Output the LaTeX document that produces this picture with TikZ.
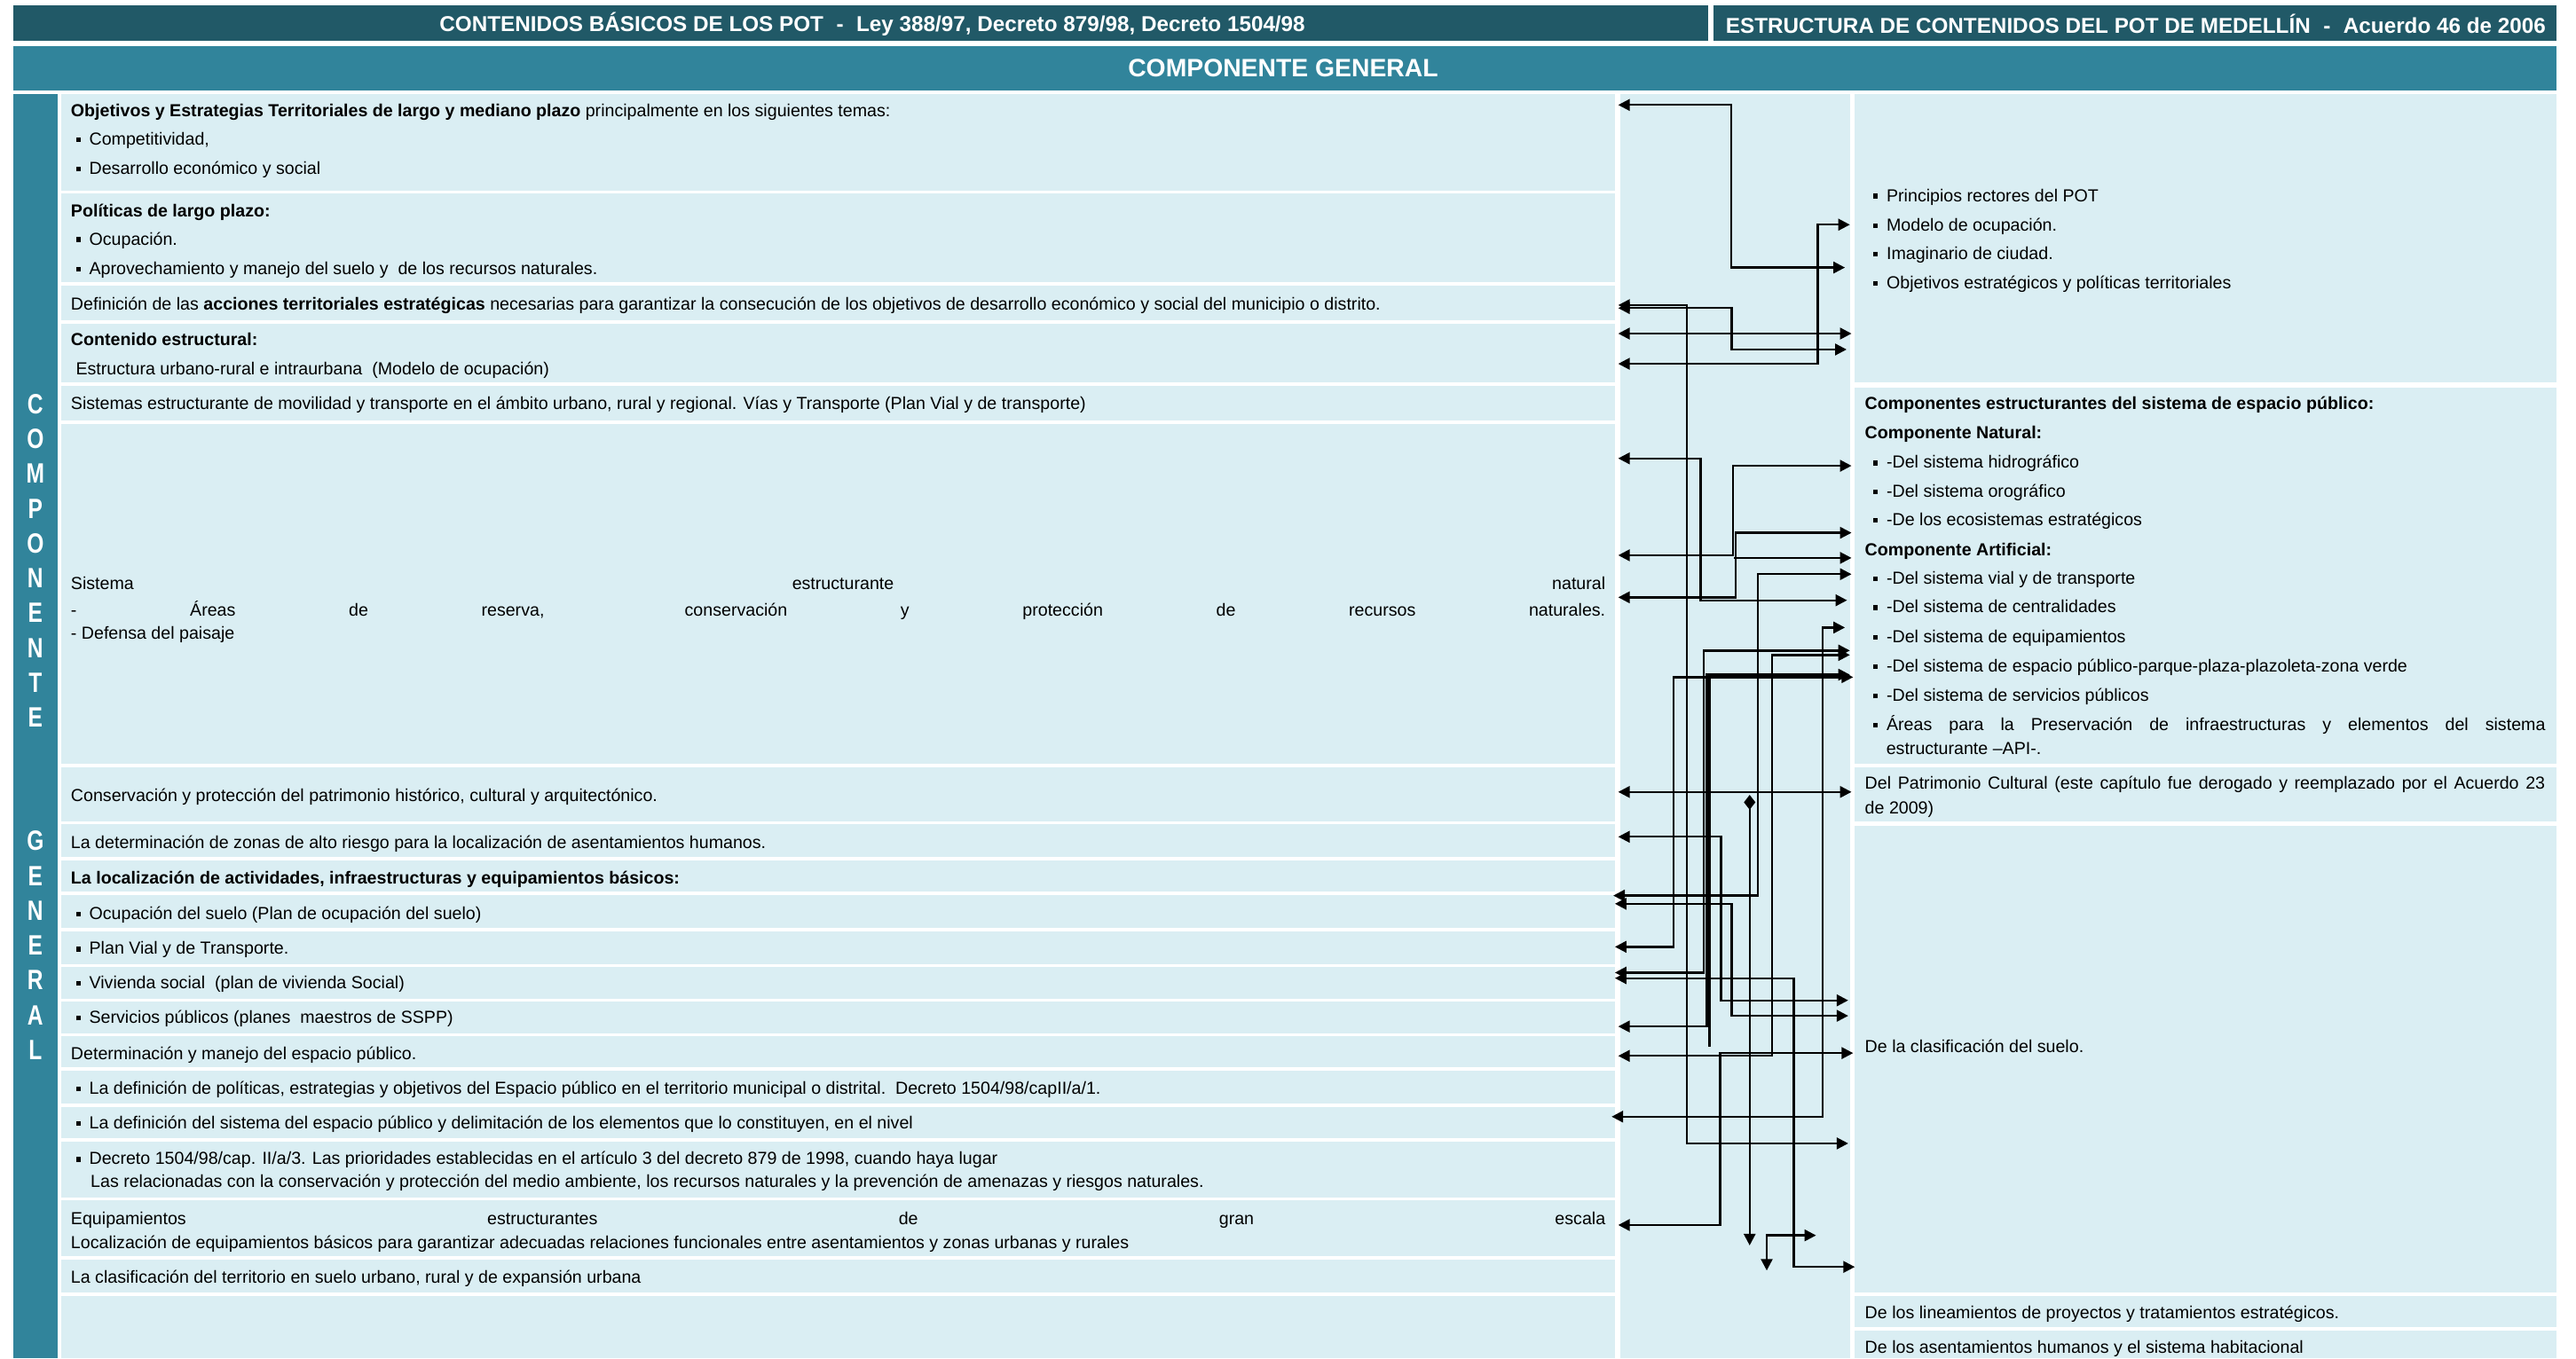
\documentclass[tikz,border=0pt]{standalone}
\usepackage{fontspec}
\usepackage{graphicx}
\setmainfont{Liberation Sans}
\usetikzlibrary{arrows.meta}
\definecolor{hdark}{HTML}{215967}
\definecolor{hmid}{HTML}{31849B}
\definecolor{cell}{HTML}{DAEEF3}
\newcommand\bul{\rule[0.17em]{0.27em}{0.27em}\hspace{0.5em}}
\begin{document}
\begin{tikzpicture}[x=1pt,y=-1pt,
 txt/.style={anchor=mid west,inner sep=0pt,yshift=-1.5pt,font=\fontsize{10.6}{12.7}\selectfont,text=black},
 con/.style={line width=1.25pt},
 arr/.style={con,{Triangle[length=7pt,width=7pt]}-{Triangle[length=7pt,width=7pt]}},
 arrR/.style={con,-{Triangle[length=7pt,width=7pt]}},
 side/.style={text=white,font=\fontsize{17}{17}\selectfont\bfseries,inner sep=0pt},
 cellf/.style={fill=cell}]
\useasboundingbox (0,0) rectangle (1568,827);
% header
\fill[hdark] (8,3) rectangle (1040,25);
\fill[hdark] (1043,3) rectangle (1556,25);
\node[text=white,font=\fontsize{13.1}{14}\selectfont\bfseries] (h1) at (531,14.5) {CONTENIDOS BÁSICOS DE LOS POT\hspace{0.6em}-\hspace{0.6em}Ley 388/97, Decreto 879/98, Decreto 1504/98};
\node[text=white,font=\fontsize{13.1}{14}\selectfont\bfseries] (h2) at (1300,14.5) {ESTRUCTURA DE CONTENIDOS DEL POT DE MEDELLÍN\hspace{0.6em}-\hspace{0.6em}Acuerdo 46 de 2006};
\fill[hmid] (8,28) rectangle (1556,55);
\node[text=white,font=\fontsize{15.3}{16}\selectfont\bfseries] (cg) at (781,41.5) {COMPONENTE GENERAL};
\fill[hmid] (8,57) rectangle (35,827);
\foreach \l [count=\i from 0] in {C,O,M,P,O,N,E,N,T,E}
  \node[side] (sa\i) at (21.5,{246+21.2*\i}) {\scalebox{0.78}[1]{\l}};
\foreach \l [count=\i from 0] in {G,E,N,E,R,A,L}
  \node[side] (sb\i) at (21.5,{512+21.2*\i}) {\scalebox{0.78}[1]{\l}};
% left rows
\foreach \t/\b in {57/116,118/172,174/195,197/233,235/256,258/465,467/500,502/522,524/543,545/565,567/587,589/608,610/629,631/650,652/672,674/693,695/729,731/765,767/787,789/827}
  \fill[cellf] (37,\t) rectangle (983,\b);
% middle column
\fill[cellf] (986,57) rectangle (1126,827);
% right rows
\foreach \t/\b in {57/233,236/465,467/500,503/787,789/808,810/827}
  \fill[cellf] (1129,\t) rectangle (1556,\b);
% left texts
\node[txt] (l1a) at (43,67) {\textbf{Objetivos y Estrategias Territoriales de largo y mediano plazo} principalmente en los siguientes temas:};
\node[txt] (l1b) at (46,84) {\bul Competitividad,};
\node[txt] (l1c) at (46,102) {\bul Desarrollo económico y social};
\node[txt] (l2a) at (43,128) {\textbf{Políticas de largo plazo:}};
\node[txt] (l2b) at (46,145) {\bul Ocupación.};
\node[txt] (l2c) at (46,163) {\bul Aprovechamiento y manejo del suelo y\ \ de los recursos naturales.};
\node[txt] (l3) at (43,184.5) {Definición de las \textbf{acciones territoriales estratégicas} necesarias para garantizar la consecución de los objetivos de desarrollo económico y social del municipio o distrito.};
\node[txt] (l4a) at (43,206) {\textbf{Contenido estructural:}};
\node[txt] (l4b) at (46,224) {Estructura urbano-rural e intraurbana\ \ (Modelo de ocupación)};
\node[txt] (l5) at (43,245) {Sistemas estructurante de movilidad y transporte en el ámbito urbano, rural y regional. Vías y Transporte (Plan Vial y de transporte)};
\node[txt] (l6a) at (43,355) {\makebox[934pt][s]{Sistema estructurante natural}};
\node[txt] (l6b) at (43,371) {\makebox[934pt][s]{- Áreas de reserva, conservación y protección de recursos naturales.}};
\node[txt] (l6c) at (43,385) {- Defensa del paisaje};
\node[txt] (l7) at (43,484) {Conservación y protección del patrimonio histórico, cultural y arquitectónico.};
\node[txt] (l8) at (43,512.5) {La determinación de zonas de alto riesgo para la localización de asentamientos humanos.};
\node[txt] (l9) at (43,534) {\textbf{La localización de actividades, infraestructuras y equipamientos básicos:}};
\node[txt] (l10) at (46,555.5) {\bul Ocupación del suelo (Plan de ocupación del suelo)};
\node[txt] (l11) at (46,577) {\bul Plan Vial y de Transporte.};
\node[txt] (l12) at (46,598) {\bul Vivienda social\ \ (plan de vivienda Social)};
\node[txt] (l13) at (46,619) {\bul Servicios públicos (planes\ \ maestros de SSPP)};
\node[txt] (l14) at (43,641) {Determinación y manejo del espacio público.};
\node[txt] (l15) at (46,662) {\bul La definición de políticas, estrategias y objetivos del Espacio público en el territorio municipal o distrital.\ \ Decreto 1504/98/capII/a/1.};
\node[txt] (l16) at (46,683) {\bul La definición del sistema del espacio público y delimitación de los elementos que lo constituyen, en el nivel};
\node[txt] (l17a) at (46,705) {\bul Decreto 1504/98/cap. II/a/3. Las prioridades establecidas en el artículo 3 del decreto 879 de 1998, cuando haya lugar};
\node[txt] (l17b) at (55,719) {Las relacionadas con la conservación y protección del medio ambiente, los recursos naturales y la prevención de amenazas y riesgos naturales.};
\node[txt] (l18a) at (43,741.5) {\makebox[934pt][s]{Equipamientos estructurantes de gran escala}};
\node[txt] (l18b) at (43,756) {Localización de equipamientos básicos para garantizar adecuadas relaciones funcionales entre asentamientos y zonas urbanas y rurales};
\node[txt] (l19) at (43,777) {La clasificación del territorio en suelo urbano, rural y de expansión urbana};
% right texts
\node[txt] (r1a) at (1140,118.5) {\bul Principios rectores del POT};
\node[txt] (r1b) at (1140,136.5) {\bul Modelo de ocupación.};
\node[txt] (r1c) at (1140,154) {\bul Imaginario de ciudad.};
\node[txt] (r1d) at (1140,171.5) {\bul Objetivos estratégicos y políticas territoriales};
\node[txt] (r2a) at (1135,245) {\textbf{Componentes estructurantes del sistema de espacio público:}};
\node[txt] (r2b) at (1135,263) {\textbf{Componente Natural:}};
\node[txt] (r2c) at (1140,281) {\bul -Del sistema hidrográfico};
\node[txt] (r2d) at (1140,298.5) {\bul -Del sistema orográfico};
\node[txt] (r2e) at (1140,316) {\bul -De los ecosistemas estratégicos};
\node[txt] (r2f) at (1135,334) {\textbf{Componente Artificial:}};
\node[txt] (r2g) at (1140,351.5) {\bul -Del sistema vial y de transporte};
\node[txt] (r2h) at (1140,369) {\bul -Del sistema de centralidades};
\node[txt] (r2i) at (1140,387) {\bul -Del sistema de equipamientos};
\node[txt] (r2j) at (1140,405) {\bul -Del sistema de espacio público-parque-plaza-plazoleta-zona verde};
\node[txt] (r2k) at (1140,423) {\bul -Del sistema de servicios públicos};
\node[txt] (r2l) at (1140,440.5) {\bul\makebox[401pt][s]{Áreas para la Preservación de infraestructuras y elementos del sistema}};
\node[txt] (r2m) at (1148,455.5) {estructurante –API-.};
\node[txt] (r3a) at (1135,476.5) {\makebox[414pt][s]{Del Patrimonio Cultural (este capítulo fue derogado y reemplazado por el Acuerdo 23}};
\node[txt] (r3b) at (1135,491.5) {de 2009)};
\node[txt] (r4) at (1135,636.5) {De la clasificación del suelo.};
\node[txt] (r5) at (1135,799) {De los lineamientos de proyectos y tratamientos estratégicos.};
\node[txt] (r6) at (1135,820) {De los asentamientos humanos y el sistema habitacional};
% connectors
\draw[arr] (985,63.9) -| (1053.6,162.9) -- (1123,162.9);
\draw[arr] (985,221.5) -| (1106.5,136.8) -- (1126,136.8);
\draw[arr] (985,185.8) -| (1026.6,696.2) -- (1125,696.2);
\draw[arr] (985,187.6) -| (1054,212.8) -- (1124,212.8);
\draw[arr] (985,203.1) -- (1127,203.1);
\draw[arr] (985,279.1) -| (1035.2,365.5) -- (1124.3,365.5);
\draw[arr] (985,338.1) -| (1055,283.6) -- (1127,283.6);
\draw[arrR] (1055.5,339.7) -- (1127,339.7);
\draw[arr] (985,363.7) -| (1056.5,324.4) -- (1127,324.4);
\draw[arr] (1127,349.6) -| (1070,545.3) -- (982,545.3);
\draw[arr] (1123,382.1) -| (1109.4,679.9) -- (981,679.9);
\draw[arr] (1126,396.1) -| (1037,592.2) -- (983,592.2);
\draw[arr] (1126,398.8) -| (1078.8,642.9) -- (985,642.9);
\draw[arr] (1128,412.3) -| (1018.7,576.5) -- (983,576.5);
\draw[arr] (1126,410.8) -| (1039,625) -- (985,625);
\draw[con] (1040.5,412.3) -- (1040.5,637.4);
\draw[arr] (985,482.2) -- (1127,482.2);
\draw[con,{Diamond[length=9pt,width=7pt]}-{Triangle[length=7pt,width=7pt]}] (1065,484) -- (1065,758.3);
\draw[arr] (985,509.5) -| (1047.5,609.1) -- (1125,609.1);
\draw[arr] (983,550.3) -| (1054.1,618.5) -- (1125,618.5);
\draw[arr] (983,595.6) -| (1091.9,771.4) -- (1129,771.4);
\draw[arr] (985,745.9) -| (1047,641.2) -- (1128,641.2);
\draw[arr] (1075.4,773.6) |- (1105.4,752.2);
\end{tikzpicture}
\end{document}
